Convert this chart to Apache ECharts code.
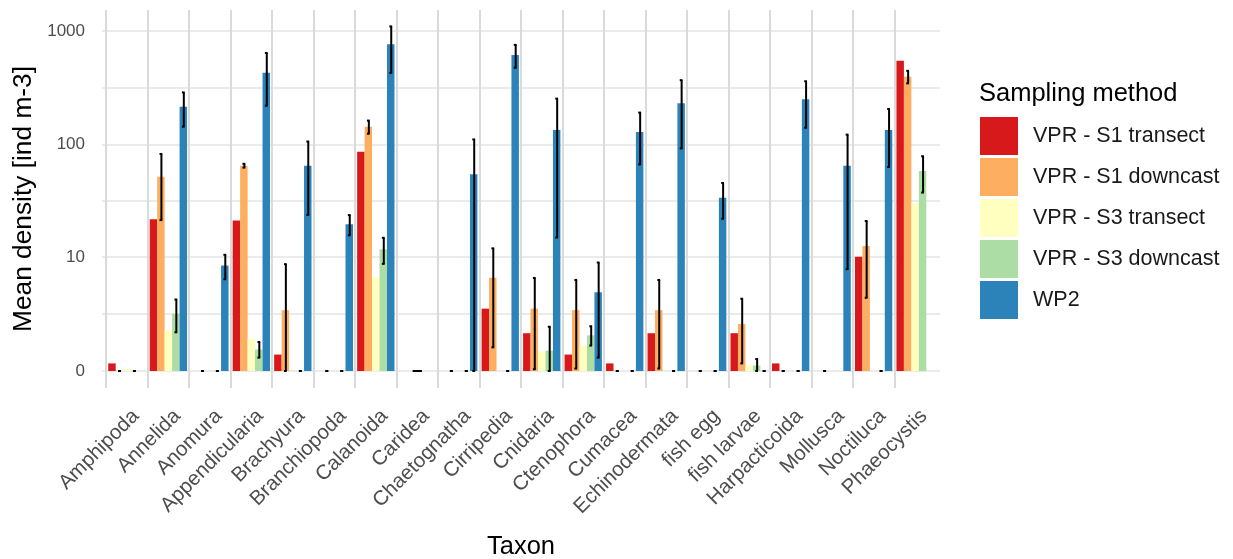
<!DOCTYPE html>
<html>
<head>
<meta charset="utf-8">
<script src="https://cdn.jsdelivr.net/npm/echarts@6/dist/echarts.min.js"></script>
<style>
  html, body { margin: 0; padding: 0; background: #ffffff; }
  #chart { width: 1233px; height: 559px; }
</style>
</head>
<body>
<div id="chart"></div>
<script>
// Taxa on the x axis
const taxa = ['Amphipoda', 'Annelida', 'Anomura', 'Appendicularia', 'Brachyura', 'Branchiopoda',
  'Calanoida', 'Caridea', 'Chaetognatha', 'Cirripedia', 'Cnidaria', 'Ctenophora', 'Cumacea',
  'Echinodermata', 'fish egg', 'fish larvae', 'Harpacticoida', 'Mollusca', 'Noctiluca', 'Phaeocystis'];

const methods = ['VPR - S1 transect', 'VPR - S1 downcast', 'VPR - S3 transect', 'VPR - S3 downcast', 'WP2'];
const methodColors = ['#D7191C', '#FDAE61', '#FFFFBF', '#ABDDA4', '#2B83BA'];

// Mean density [ind m-3] and standard deviation per taxon (null = not sampled)
const s1TransectMean = [0.31, 21.8, null, 21.2, 0.68, null, 86, null, null, 3.27, 1.69, 0.68, 0.31, 1.69, null, 1.69, 0.31, null, 10.1, 547];
const s1TransectSd   = [null, null, null, null, null, null, null, null, null, null, null, null, null, null, null, null, null, null, null, null];

const s1DowncastMean = [0, 51.8, 0, 64.8, 3.15, 0, 143, 0, 0, 6.5, 3.27, 3.15, 0, 3.15, 0, 2.21, 0, 0, 12.6, 395];
const s1DowncastSd   = [0, 30.4, 0, 2.5, 5.5, 0, 19, 0, 0, 5.5, 3.2, 3.05, 0, 3.05, 0, 1.9, 0, 0, 8.4, 50];

const s3TransectMean = [0.08, 1.87, null, 1.39, null, null, 6.5, null, null, null, 0.82, 1.07, null, null, null, 0.22, null, null, null, 30.2];
const s3TransectSd   = [null, null, null, null, null, null, null, null, null, null, null, null, null, null, null, null, null, null, null, null];

const s3DowncastMean = [0, 2.89, 0, 0.9, 0, 0, 11.8, null, 0, 0, 0.85, 1.58, 0, 0, 0, 0.22, 0, null, 0, 58];
const s3DowncastSd   = [0, 1.15, 0, 0.35, 0, 0, 3.1, null, 0, 0, 1.2, 0.5, 0, 0, 0, 0.27, 0, null, 0, 20.5];

const wp2Mean = [null, 215, 8.4, 429, 64.8, 19.7, 762, null, 54.4, 614, 134, 4.75, 128.5, 230, 33.8, 0, 250, 64.8, 134, null];
const wp2Sd   = [null, 72, 2.1, 210, 41, 4, 335, null, 56, 140, 119, 4.2, 62, 138, 11.8, 0, 110, 57, 71, null];

// Breaks of the density axis
const yBreaks = [0, 10, 100, 1000];

const meanSets = [s1TransectMean, s1DowncastMean, s3TransectMean, s3DowncastMean, wp2Mean];
const sdSets = [s1TransectSd, s1DowncastSd, s3TransectSd, s3DowncastSd, wp2Sd];

// Pseudo-log transform (asinh based, base 10)
const plog = v => Math.asinh(v / 2) / Math.LN10;

const breakPos = yBreaks.map(plog);
const minorPos = breakPos.slice(0, -1).map((p, i) => (p + breakPos[i + 1]) / 2);
const gridPos = breakPos.concat(minorPos).sort((a, b) => a - b);

const FONT = '"Liberation Sans", Arial, sans-serif';

// Number of entries present per taxon; a lone entry fills its whole group
const presentCount = taxa.map((_, i) => meanSets.filter(s => s[i] !== null).length);

const barSeries = methods.map((name, si) => ({
  name: name,
  type: 'bar',
  xAxisIndex: 0,
  yAxisIndex: 0,
  barGap: '0%',
  barCategoryGap: '10%',
  itemStyle: { color: methodColors[si] },
  emphasis: { disabled: true },
  data: meanSets[si].map((v, i) => [i, v === null ? '-' : plog(v)])
}));

// Error bar records: [taxon index, method index, low, high, entries in group]
const errData = [];
meanSets.forEach((means, si) => {
  means.forEach((m, i) => {
    const sd = sdSets[si][i];
    if (m === null || sd === null) return;
    const lo = Math.max(0, m - sd);
    const hi = m + sd;
    errData.push([i, si, plog(lo), plog(hi), presentCount[i]]);
  });
});

const errorSeries = {
  name: 'sd',
  type: 'custom',
  z: 5,
  silent: true,
  encode: { x: 0, y: [2, 3] },
  data: errData,
  renderItem: function (params, api) {
    const ci = api.value(0);
    const si = api.value(1);
    const n = api.value(4);
    const band = api.size([1, 0])[0];
    const bw = band * 0.9 / 5;
    const cx = api.coord([ci, 0])[0] + (n === 1 ? 0 : (si - 2) * bw);
    const yLo = api.coord([ci, api.value(2)])[1];
    const yHi = api.coord([ci, api.value(3)])[1];
    const capW = n === 1 ? 4.5 : 1.4;
    const st = { stroke: '#000000', lineWidth: 2 };
    return {
      type: 'group',
      children: [
        { type: 'line', shape: { x1: cx + 0.5, y1: yLo, x2: cx + 0.5, y2: yHi }, style: st },
        { type: 'line', shape: { x1: cx - capW, y1: yHi, x2: cx + capW, y2: yHi }, style: st },
        { type: 'line', shape: { x1: cx - capW, y1: yLo, x2: cx + capW, y2: yLo }, style: st }
      ]
    };
  }
};

const chart = echarts.init(document.getElementById('chart'), null, { renderer: 'canvas' });

chart.setOption({
  animation: false,
  backgroundColor: '#ffffff',
  title: {
    text: 'Sampling method',
    left: 979,
    top: 81,
    padding: 0,
    textStyle: { fontFamily: FONT, fontSize: 25.5, fontWeight: 'normal', color: '#000000' }
  },
  legend: {
    data: methods,
    orient: 'vertical',
    left: 980,
    top: 117,
    padding: 0,
    itemWidth: 38,
    itemHeight: 38,
    itemGap: 3,
    icon: 'rect',
    selectedMode: false,
    textStyle: { fontFamily: FONT, fontSize: 21.5, color: '#1a1a1a', padding: [0, 0, 0, 10] }
  },
  grid: { left: 102, right: 293, top: 10, bottom: 171, containLabel: false, outerBoundsMode: 'none' },
  xAxis: [{
    type: 'value',
    min: -0.6,
    max: 19.6,
    name: 'Taxon',
    nameLocation: 'middle',
    nameGap: 146,
    nameTextStyle: { fontFamily: FONT, fontSize: 25.5, color: '#000000' },
    axisLine: { show: false },
    axisTick: { show: false, customValues: taxa.map((_, i) => i - 0.5) },
    splitLine: { show: true, lineStyle: { color: '#DADADA', width: 2 } },
    axisLabel: {
      customValues: taxa.map((_, i) => i),
      formatter: v => taxa[Math.round(v)],
      rotate: 45,
      margin: 7,
      verticalAlign: 'top',
      padding: [8.5, 6.5, 0, 0],
      fontFamily: FONT,
      fontSize: 20.5,
      color: '#4D4D4D',
      hideOverlap: false
    }
  }],
  yAxis: [{
    type: 'value',
    min: -0.15,
    max: 3.185,
    name: 'Mean density [ind m-3]',
    nameLocation: 'middle',
    nameRotate: 90,
    nameGap: 60,
    nameTextStyle: { fontFamily: FONT, fontSize: 26.3, color: '#000000' },
    axisLine: { show: false },
    axisTick: { show: false, customValues: gridPos },
    splitLine: { show: true, lineStyle: { color: '#EBEBEB', width: 1.8 } },
    axisLabel: {
      customValues: breakPos,
      formatter: v => {
        const k = breakPos.findIndex(p => Math.abs(p - v) < 1e-6);
        return k >= 0 ? String(yBreaks[k]) : '';
      },
      margin: 17,
      fontFamily: FONT,
      fontSize: 17,
      color: '#4D4D4D'
    }
  }],
  series: barSeries.concat([errorSeries])
});
</script>
</body>
</html>
